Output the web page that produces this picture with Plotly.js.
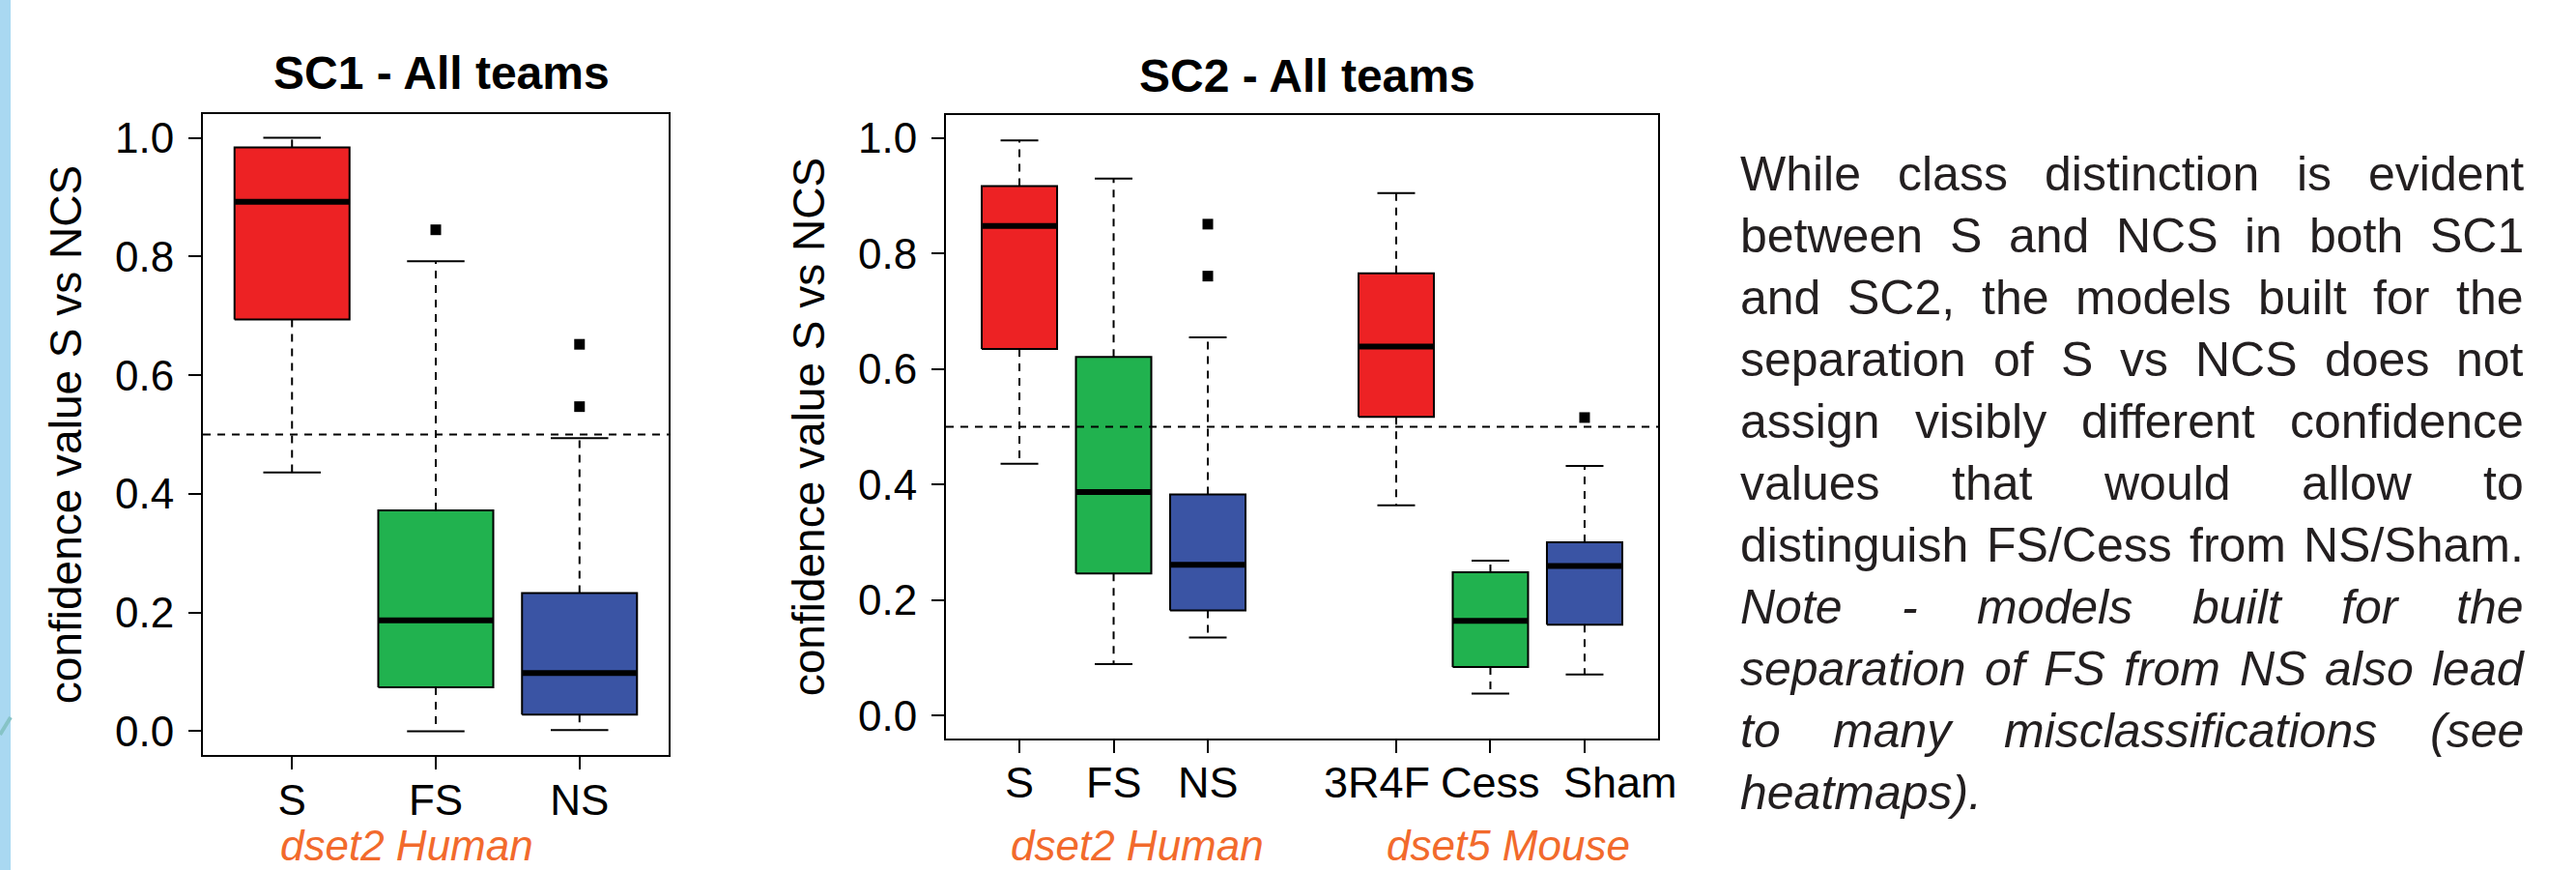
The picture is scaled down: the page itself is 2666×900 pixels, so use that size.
<!DOCTYPE html>
<html>
<head>
<meta charset="utf-8">
<script src="https://cdn.plot.ly/plotly-3.0.1.min.js"></script>
<style>
  html, body { margin: 0; padding: 0; background: #ffffff; }
  #chart { width: 2666px; height: 900px; }
</style>
</head>
<body>
<div id="chart"></div>
<script>
// ---------------- DATA ----------------
const sc1Categories = ['S', 'FS', 'NS'];
const sc1Positions  = [1, 2, 3];
const sc1Lower      = [0.436, 0.000, 0.002];
const sc1Q1         = [0.694, 0.074, 0.028];
const sc1Median     = [0.892, 0.187, 0.098];
const sc1Q3         = [0.984, 0.372, 0.233];
const sc1Upper      = [1.000, 0.792, 0.494];
const sc1Outliers   = [[], [0.845], [0.652, 0.547]];

const sc2Categories = ['S', 'FS', 'NS', '3R4F', 'Cess', 'Sham'];
const sc2Positions  = [1, 2, 3, 5, 6, 7];
const sc2Lower      = [0.436, 0.089, 0.135, 0.364, 0.038, 0.071];
const sc2Q1         = [0.635, 0.246, 0.182, 0.517, 0.084, 0.157];
const sc2Median     = [0.848, 0.387, 0.261, 0.639, 0.164, 0.259];
const sc2Q3         = [0.917, 0.621, 0.383, 0.766, 0.248, 0.300];
const sc2Upper      = [0.996, 0.930, 0.655, 0.905, 0.268, 0.432];
const sc2Outliers   = [[], [], [0.851, 0.761], [], [], [0.516]];

const yTickValues = [0, 0.2, 0.4, 0.6, 0.8, 1.0];
const yTickLabels = ['0.0', '0.2', '0.4', '0.6', '0.8', '1.0'];
const threshold = 0.5;

const panelTitles = ['SC1 - All teams', 'SC2 - All teams'];
const yAxisTitle = 'confidence value S vs NCS';
const groupLabels = ['dset2 Human', 'dset2 Human', 'dset5 Mouse'];

const noteLines = [
  'While class distinction is evident',
  'between S and NCS in both SC1',
  'and SC2, the models built for the',
  'separation of S vs NCS does not',
  'assign visibly different confidence',
  'values that would allow to',
  'distinguish FS/Cess from NS/Sham.',
  'Note - models built for the',
  'separation of FS from NS  also lead',
  'to many misclassifications (see',
  'heatmaps).'
];
const noteItalicFrom = 7;

// ---------------- STYLE ----------------
const W = 2666, H = 900;
const FONT = 'Liberation Sans, Arial, Helvetica, sans-serif';
const RED = '#ED2224', GREEN = '#21B24F', BLUE = '#3A54A4';
const ORANGE = '#F26A2C';
const sc1Colors = [RED, GREEN, BLUE];
const sc2Colors = [RED, GREEN, BLUE, RED, GREEN, BLUE];
const HALF = 0.4, CAP = 0.2;
const sc2LabelShift = [0, 0, 0, -20, 0, 37];   // pixel nudges of the SC2 category labels

function px(v) { return v / W; }
function py(v) { return 1 - v / H; }

function panelTraces(xa, ya, pos, lo, q1, med, q3, hi, outs, colors) {
  const traces = [];
  const wx = [], wy = [];
  const cx = [], cy = [];
  const mx = [], my = [];
  const ox = [], oy = [];
  pos.forEach((p, i) => {
    wx.push(p, p, null, p, p, null);
    wy.push(q3[i], hi[i], null, q1[i], lo[i], null);
    cx.push(p - CAP, p + CAP, null, p - CAP, p + CAP, null);
    cy.push(hi[i], hi[i], null, lo[i], lo[i], null);
    mx.push(p - HALF, p + HALF, null);
    my.push(med[i], med[i], null);
    outs[i].forEach(v => { ox.push(p); oy.push(v); });
  });
  traces.push({type: 'scatter', mode: 'lines', x: wx, y: wy, xaxis: xa, yaxis: ya,
    line: {color: '#000', width: 2, dash: '8px,7px'}, hoverinfo: 'skip', showlegend: false});
  traces.push({type: 'scatter', mode: 'lines', x: cx, y: cy, xaxis: xa, yaxis: ya,
    line: {color: '#000', width: 2}, hoverinfo: 'skip', showlegend: false});
  pos.forEach((p, i) => {
    traces.push({type: 'scatter', mode: 'lines', fill: 'toself', fillcolor: colors[i],
      x: [p - HALF, p + HALF, p + HALF, p - HALF, p - HALF],
      y: [q1[i], q1[i], q3[i], q3[i], q1[i]],
      xaxis: xa, yaxis: ya, line: {color: '#000', width: 2},
      hoverinfo: 'skip', showlegend: false});
  });
  traces.push({type: 'scatter', mode: 'lines', x: mx, y: my, xaxis: xa, yaxis: ya,
    line: {color: '#000', width: 6}, hoverinfo: 'skip', showlegend: false});
  traces.push({type: 'scatter', mode: 'markers', x: ox, y: oy, xaxis: xa, yaxis: ya,
    marker: {symbol: 'square', size: 11, color: '#000'}, hoverinfo: 'skip', showlegend: false});
  return traces;
}

const data = [].concat(
  panelTraces('x', 'y', sc1Positions, sc1Lower, sc1Q1, sc1Median, sc1Q3, sc1Upper, sc1Outliers, sc1Colors),
  panelTraces('x2', 'y2', sc2Positions, sc2Lower, sc2Q1, sc2Median, sc2Q3, sc2Upper, sc2Outliers, sc2Colors)
);

function xAxis(domain, range, vals, text, anchor, showLabels) {
  return {
    domain: domain, range: range, anchor: anchor,
    tickmode: 'array', tickvals: vals, ticktext: text, tickangle: 0,
    showticklabels: showLabels,
    ticks: 'outside', ticklen: 13, tickwidth: 2, tickcolor: '#000',
    ticklabelstandoff: -6,
    showline: true, mirror: true, linecolor: '#000', linewidth: 2,
    showgrid: false, zeroline: false, automargin: false, fixedrange: true,
    tickfont: {family: FONT, size: 44, color: '#000'}
  };
}
function yAxis(domain, anchor, standoff) {
  return {
    domain: domain, range: [-0.04, 1.04], anchor: anchor,
    tickmode: 'array', tickvals: yTickValues, ticktext: yTickLabels, tickangle: 0,
    ticks: 'outside', ticklen: 13, tickwidth: 2, tickcolor: '#000',
    ticklabelstandoff: 6,
    showline: true, mirror: true, linecolor: '#000', linewidth: 2,
    showgrid: false, zeroline: false, automargin: false, fixedrange: true,
    tickfont: {family: FONT, size: 44, color: '#000'},
    title: {text: yAxisTitle, font: {family: FONT, size: 46, color: '#000'}, standoff: standoff}
  };
}

// ---- justified paragraph as per-word annotations ----
const annotations = [];
const canvas = document.createElement('canvas');
const ctx = canvas.getContext('2d');
const NOTE_SIZE = 50;
const NOTE_LEFT = 1800, NOTE_RIGHT = 2611;
const NOTE_TOP = 180, NOTE_PITCH = 64;
noteLines.forEach((line, li) => {
  const italic = li >= noteItalicFrom;
  ctx.font = (italic ? 'italic ' : '') + NOTE_SIZE + 'px "Liberation Sans"';
  const words = line.split(/\s+/).filter(w => w.length);
  const widths = words.map(w => ctx.measureText(w).width);
  const total = widths.reduce((a, b) => a + b, 0);
  const spaceW = ctx.measureText(' ').width;
  const last = li === noteLines.length - 1;
  const gap = (last || words.length < 2) ? spaceW : (NOTE_RIGHT - NOTE_LEFT - total) / (words.length - 1);
  let xx = NOTE_LEFT;
  words.forEach((w, wi) => {
    annotations.push({
      text: w, xref: 'paper', yref: 'paper',
      x: px(xx), y: py(NOTE_TOP + li * NOTE_PITCH),
      xanchor: 'left', yanchor: 'middle', showarrow: false, borderpad: 0,
      font: {family: FONT, size: NOTE_SIZE, color: '#231F20', style: italic ? 'italic' : 'normal'}
    });
    xx += widths[wi] + gap;
  });
});

// SC2 category labels (placed through the x2 scale, with small nudges)
sc2Categories.forEach((c, i) => {
  annotations.push({text: c, xref: 'x2', yref: 'paper',
    x: sc2Positions[i], xshift: sc2LabelShift[i], y: py(809),
    xanchor: 'center', yanchor: 'middle', showarrow: false, borderpad: 0,
    font: {family: FONT, size: 45, color: '#000'}});
});

// panel titles
annotations.push({text: '<b>' + panelTitles[0] + '</b>', xref: 'paper', yref: 'paper',
  x: px(457), y: py(75), xanchor: 'center', yanchor: 'middle', showarrow: false,
  font: {family: FONT, size: 48, color: '#000'}});
annotations.push({text: '<b>' + panelTitles[1] + '</b>', xref: 'paper', yref: 'paper',
  x: px(1353), y: py(78), xanchor: 'center', yanchor: 'middle', showarrow: false,
  font: {family: FONT, size: 48, color: '#000'}});

// group labels
const groupX = [421, 1177, 1561];
groupLabels.forEach((g, i) => {
  annotations.push({text: g, xref: 'paper', yref: 'paper',
    x: px(groupX[i]), y: 0, xanchor: 'center', yanchor: 'bottom', showarrow: false, borderpad: 0,
    font: {family: FONT, size: 44, color: ORANGE, style: 'italic'}});
});

const shapes = [
  {type: 'rect', xref: 'paper', yref: 'paper', x0: 0, x1: px(11), y0: 0, y1: 1,
   fillcolor: '#A9D8F1', line: {width: 0}, layer: 'below'},
  {type: 'line', xref: 'paper', yref: 'paper', x0: 0, x1: px(11), y0: py(760), y1: py(742),
   line: {color: '#86C3C6', width: 4}, layer: 'below'},
  {type: 'line', xref: 'x domain', yref: 'y', x0: 0, x1: 1, y0: threshold, y1: threshold,
   line: {color: '#000', width: 2, dash: '8px,7px'}},
  {type: 'line', xref: 'x2 domain', yref: 'y2', x0: 0, x1: 1, y0: threshold, y1: threshold,
   line: {color: '#000', width: 2, dash: '8px,7px'}}
];

const layout = {
  width: W, height: H,
  margin: {l: 0, r: 0, t: 0, b: 0, pad: 0},
  paper_bgcolor: '#ffffff', plot_bgcolor: '#ffffff',
  showlegend: false,
  font: {family: FONT, color: '#000'},
  xaxis: xAxis([px(210), px(692)], [0.38, 3.62], sc1Positions, sc1Categories, 'y', true),
  yaxis: yAxis([py(781), py(118)], 'x', 20),
  xaxis2: xAxis([px(979), px(1716)], [0.22, 7.78], sc2Positions, sc2Categories, 'y2', false),
  yaxis2: yAxis([py(764), py(119)], 'x2', 20),
  annotations: annotations,
  shapes: shapes
};

Plotly.newPlot('chart', data, layout, {staticPlot: true, displayModeBar: false});
</script>
</body>
</html>
